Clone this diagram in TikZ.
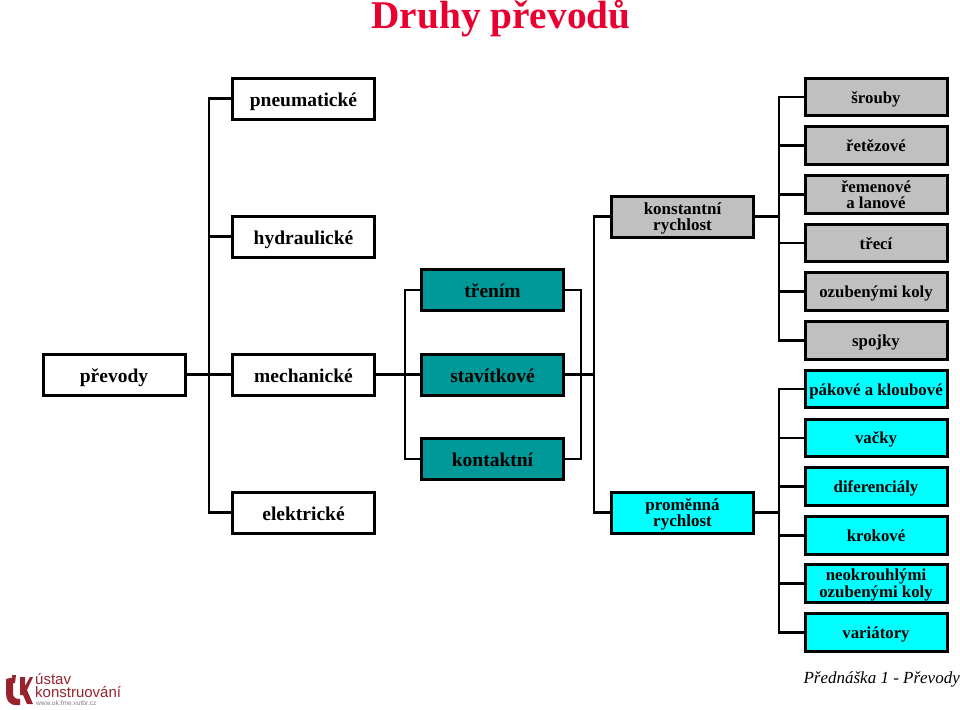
\documentclass[tikz,border=0pt]{standalone}
\usepackage{fontspec}
\setmainfont{Liberation Serif}
\setsansfont{Liberation Sans}
\definecolor{sedaBox}{RGB}{192,192,192}
\definecolor{tealBox}{RGB}{0,153,153}
\definecolor{cyanBox}{RGB}{0,255,255}
\definecolor{nadpis}{RGB}{234,0,48}
\definecolor{logoRed}{RGB}{150,35,45}
\tikzset{
  box/.style={rectangle,draw=black,line width=3pt,fill=white,minimum width=142pt,minimum height=41pt,inner sep=0pt,align=center,text height=15pt,text depth=0pt,font=\fontsize{19.5}{17}\selectfont\bfseries,text=black},
  rbox/.style={box,fill=sedaBox,minimum height=37.6pt,text height=12pt,font=\fontsize{16.8}{16}\selectfont\bfseries},
  cbox/.style={rbox,fill=cyanBox},
  tbox/.style={box,fill=tealBox},
  dvou/.style={text height=27pt,text depth=0pt},
  vedeni/.style={draw=black,line width=2.5pt}
}
\begin{document}
\begin{tikzpicture}[x=1pt,y=-1pt]
  \useasboundingbox (0,0) rectangle (960,709);

  % Nadpis
  \node[text=nadpis,font=\fontsize{39.3}{40}\selectfont\bfseries] (nadpis) at (501,19) {Druhy převodů};

  % Levy sloupec
  \node[box] (prevody) at (114,374.5) {převody};
  \node[box] (pneu) at (303.5,98.5) {pneumatické};
  \node[box] (hydr) at (303.5,236.5) {hydraulické};
  \node[box] (mech) at (303.5,374.5) {mechanické};
  \node[box] (elek) at (303.5,512.5) {elektrické};

  % Prostredni sloupec
  \node[tbox] (treni) at (492.5,290) {třením};
  \node[tbox] (stav) at (492.5,374.5) {stavítkové};
  \node[tbox] (kont) at (492.5,459) {kontaktní};

  % Rychlost
  \node[box,dvou,fill=sedaBox,font=\fontsize{17}{16}\selectfont\bfseries] (konst) at (682.5,216.5) {konstantní\\rychlost};
  \node[box,dvou,fill=cyanBox,font=\fontsize{17}{16}\selectfont\bfseries] (prom) at (682.5,512.5) {proměnná\\rychlost};

  % Pravy sloupec
  \node[rbox] (sroub) at (876,97) {šrouby};
  \node[rbox] (retez) at (876,145.7) {řetězové};
  \node[rbox,dvou] (rem) at (876,194.7) {řemenové\\a lanové};
  \node[rbox] (trec) at (876,243) {třecí};
  \node[rbox] (ozub) at (876,291.7) {ozubenými koly};
  \node[rbox] (spoj) at (876,340.3) {spojky};
  \node[cbox] (pak) at (876,389) {pákové a kloubové};
  \node[cbox] (vack) at (876,437.8) {vačky};
  \node[cbox] (dif) at (876,486.7) {diferenciály};
  \node[cbox] (krok) at (876,535.3) {krokové};
  \node[cbox,dvou,font=\fontsize{16.8}{17}\selectfont\bfseries] (neo) at (876,583.7) {neokrouhlými\\ozubenými koly};
  \node[cbox] (var) at (876,632.7) {variátory};

  % Vedeni
  \coordinate (b1) at (209,374.5);
  \coordinate (b2) at (405,374.5);
  \coordinate (b3) at (581,374.5);
  \coordinate (b4) at (594,374.5);
  \coordinate (b5) at (779,216.5);
  \coordinate (b6) at (779,512.5);
  \draw[vedeni] (prevody) -- (mech);
  \draw[vedeni] (pneu) -| (b1) |- (elek);
  \draw[vedeni] (b1) |- (hydr);
  \draw[vedeni] (mech) -- (stav);
  \draw[vedeni] (treni) -| (b2) |- (kont);
  \draw[vedeni] (treni) -| (b3) |- (kont);
  \draw[vedeni] (stav) -- (b4);
  \draw[vedeni] (konst) -| (b4) |- (prom);
  \draw[vedeni] (konst) -- (b5);
  \draw[vedeni] (prom) -- (b6);
  \draw[vedeni] (sroub) -| (b5) |- (spoj);
  \draw[vedeni] (b5) |- (retez);
  \draw[vedeni] (b5) |- (rem);
  \draw[vedeni] (b5) |- (trec);
  \draw[vedeni] (b5) |- (ozub);
  \draw[vedeni] (pak) -| (b6) |- (var);
  \draw[vedeni] (b6) |- (vack);
  \draw[vedeni] (b6) |- (dif);
  \draw[vedeni] (b6) |- (krok);
  \draw[vedeni] (b6) |- (neo);

  % Zapati
  \node[anchor=east,inner sep=0pt,font=\fontsize{17}{18}\selectfont\itshape] (zapati) at (960,679) {Přednáška 1 - Převody};
  \fill[logoRed] (6,679) -- (13,677.5) -- (13,693) .. controls (13,698) and (16,699) .. (20,699) -- (20,705) -- (16,705) .. controls (9,705) and (6,700) .. (6,693) -- cycle;
  \fill[logoRed] (20,677) -- (25,677) -- (25,686) -- (30,677) -- (33,677) -- (27,690) -- (33,704) -- (27,704) -- (23,695) -- (20,695) -- cycle;
  \fill[logoRed] (12,675) -- (16,675) -- (15,683) -- (13,683) -- cycle;
  \node[anchor=base west,inner sep=0pt,text=logoRed,font=\sffamily\fontsize{15}{15}\selectfont] (logoa) at (35,684) {ústav};
  \node[anchor=base west,inner sep=0pt,text=logoRed,font=\sffamily\fontsize{15}{15}\selectfont] (logob) at (35,697.5) {konstruování};
  \node[anchor=base west,inner sep=0pt,text=black!50,font=\sffamily\fontsize{6.6}{6.6}\selectfont] (logoc) at (36,705.5) {www.uk.fme.vutbr.cz};
\end{tikzpicture}
\end{document}
